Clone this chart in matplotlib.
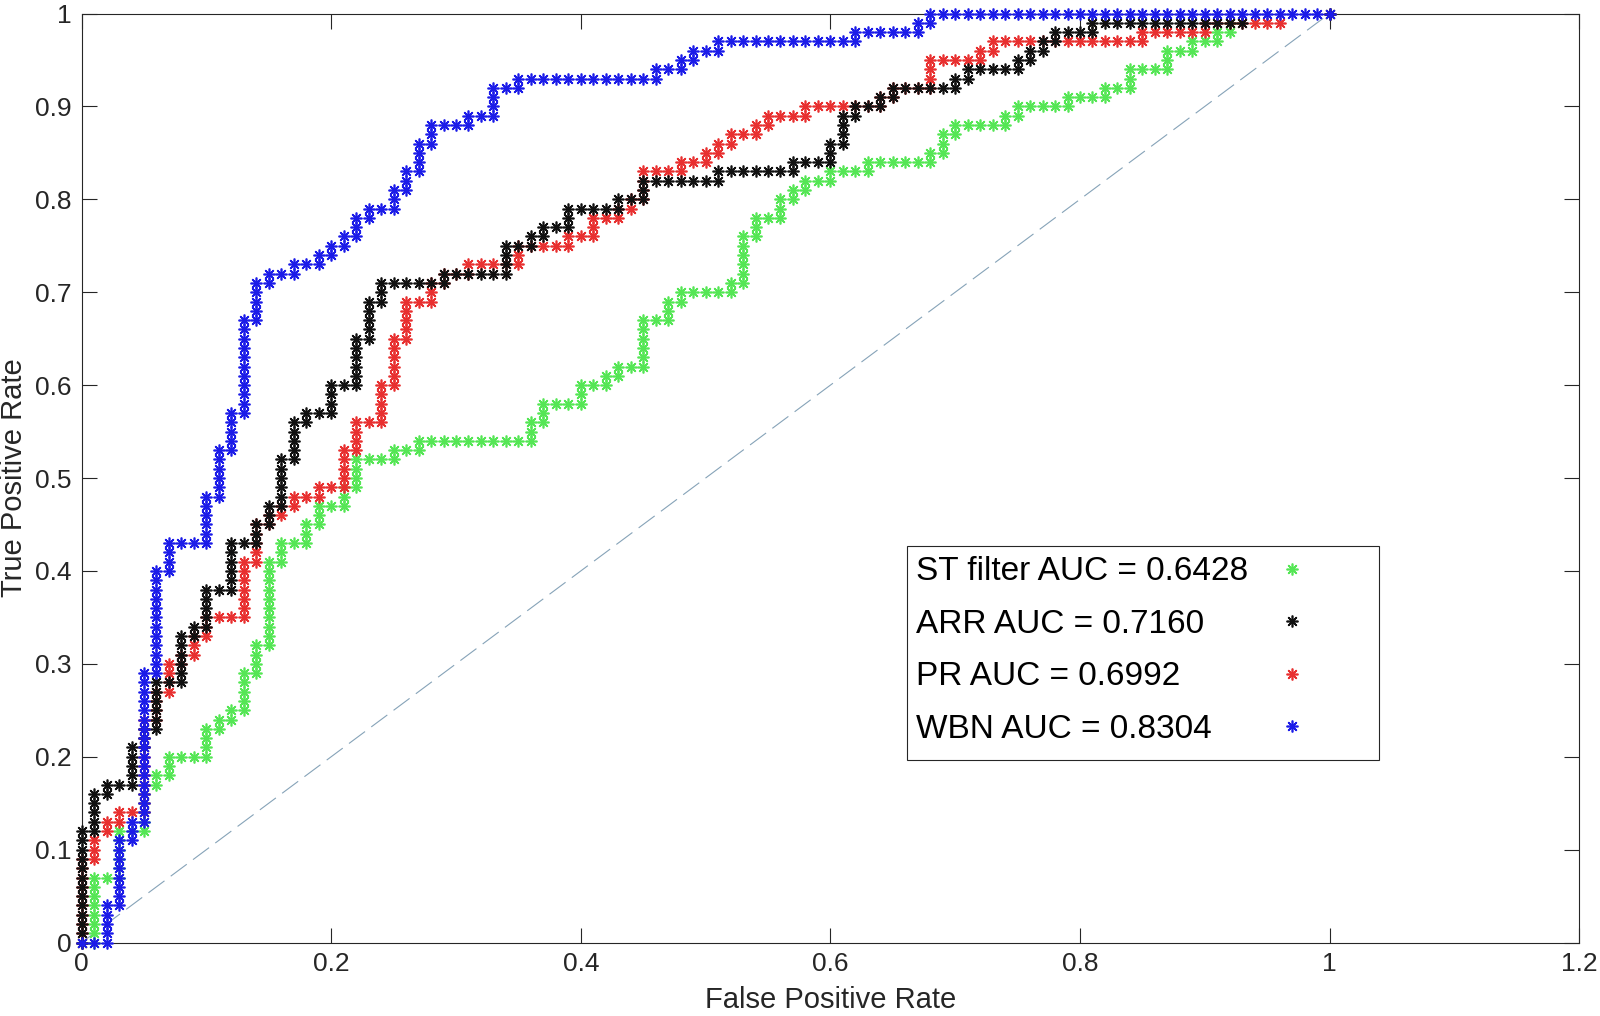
import matplotlib
matplotlib.use('Agg')
import matplotlib.pyplot as plt
from matplotlib.lines import Line2D
from matplotlib.patches import Rectangle

plt.rcParams['font.family'] = ['Liberation Sans', 'DejaVu Sans']

# ROC points. Key: FPR in percent; value: TPR values (percent) plotted at that FPR.
st_filter_roc = {
    0: [0], 1: [0, 1, 2, 3, 4, 5, 6, 7], 2: [7], 3: [7, 8, 9, 10, 11, 12], 4: [12],
    5: [12, 13, 14, 15, 16, 17], 6: [17, 18], 7: [18, 19, 20], 8: [20], 9: [20],
    10: [20, 21, 22, 23], 11: [23, 24], 12: [24, 25], 13: [25, 26, 27, 28, 29],
    14: [29, 30, 31, 32], 15: [32, 33, 34, 35, 36, 37, 38, 39, 40, 41], 16: [41, 42, 43],
    17: [43], 18: [43, 44, 45], 19: [45, 46, 47], 20: [47], 21: [47, 48, 49],
    22: [49, 50, 51, 52], 23: [52], 24: [52], 25: [52, 53], 26: [53], 27: [53, 54],
    28: [54], 29: [54], 30: [54], 31: [54], 32: [54], 33: [54], 34: [54], 35: [54],
    36: [54, 55, 56], 37: [56, 57, 58], 38: [58], 39: [58], 40: [58, 59, 60], 41: [60],
    42: [60, 61], 43: [61, 62], 44: [62], 45: [62, 63, 64, 65, 66, 67], 46: [67],
    47: [67, 68, 69], 48: [69, 70], 49: [70], 50: [70], 51: [70], 52: [70, 71],
    53: [71, 72, 73, 74, 75, 76], 54: [76, 77, 78], 55: [78], 56: [78, 79, 80],
    57: [80, 81], 58: [81, 82], 59: [82], 60: [82, 83], 61: [83], 62: [83], 63: [83, 84],
    64: [84], 65: [84], 66: [84], 67: [84], 68: [84, 85], 69: [85, 86, 87], 70: [87, 88],
    71: [88], 72: [88], 73: [88], 74: [88, 89], 75: [89, 90], 76: [90], 77: [90], 78: [90],
    79: [90, 91], 80: [91], 81: [91], 82: [91, 92], 83: [92], 84: [92, 93, 94], 85: [94],
    86: [94], 87: [94, 95, 96], 88: [96], 89: [96, 97], 90: [97], 91: [97, 98],
    92: [98, 99], 100: [100],
}

arr_roc = {
    0: [0, 1, 2, 3, 4, 5, 6, 7, 8, 9, 10, 11, 12], 1: [12, 13, 14, 15, 16], 2: [16, 17],
    3: [17], 4: [17, 18, 19, 20, 21], 5: [21, 22, 23], 6: [23, 24, 25, 26, 27, 28],
    7: [28], 8: [28, 29, 30, 31, 32, 33], 9: [33, 34], 10: [34, 35, 36, 37, 38], 11: [38],
    12: [38, 39, 40, 41, 42, 43], 13: [43], 14: [43, 44, 45], 15: [45, 46, 47],
    16: [47, 48, 49, 50, 51, 52], 17: [52, 53, 54, 55, 56], 18: [56, 57], 19: [57],
    20: [57, 58, 59, 60], 21: [60], 22: [60, 61, 62, 63, 64, 65], 23: [65, 66, 67, 68, 69],
    24: [69, 70, 71], 25: [71], 26: [71], 27: [71], 28: [71], 29: [71, 72], 30: [72],
    31: [72], 32: [72], 33: [72], 34: [72, 73, 74, 75], 35: [75], 36: [75, 76],
    37: [76, 77], 38: [77], 39: [77, 78, 79], 40: [79], 41: [79], 42: [79], 43: [79, 80],
    44: [80], 45: [80, 81, 82], 46: [82], 47: [82], 48: [82], 49: [82], 50: [82],
    51: [82, 83], 52: [83], 53: [83], 54: [83], 55: [83], 56: [83], 57: [83, 84],
    58: [84], 59: [84], 60: [84, 85, 86], 61: [86, 87, 88, 89], 62: [89, 90], 63: [90],
    64: [90, 91], 65: [91, 92], 66: [92], 67: [92], 68: [92], 69: [92], 70: [92, 93],
    71: [93, 94], 72: [94], 73: [94], 74: [94], 75: [94, 95], 76: [95, 96], 77: [96, 97],
    78: [97, 98], 79: [98], 80: [98], 81: [98, 99], 82: [99], 83: [99], 84: [99],
    85: [99], 86: [99], 87: [99], 88: [99], 89: [99], 90: [99], 91: [99], 92: [99],
    93: [99], 100: [100],
}

pr_roc = {
    0: [0, 1, 2, 3, 4, 5, 6, 7, 8, 9], 1: [9, 10, 11], 2: [12, 13], 3: [13, 14], 4: [14],
    5: [14, 15, 16, 17, 18, 19, 20, 21, 22, 23, 24], 6: [24, 25, 26, 27],
    7: [27, 28, 29, 30], 8: [30, 31], 9: [31, 32, 33], 10: [33, 34, 35], 11: [35],
    12: [35], 13: [35, 36, 37, 38, 39, 40, 41], 14: [41, 42, 43, 44, 45], 15: [45, 46],
    16: [46, 47], 17: [47, 48], 18: [48], 19: [48, 49], 20: [49], 21: [49, 50, 51, 52, 53],
    22: [53, 54, 55, 56], 23: [56], 24: [56, 57, 58, 59, 60], 25: [60, 61, 62, 63, 64, 65],
    26: [65, 66, 67, 68, 69], 27: [69], 28: [69, 70, 71], 29: [71, 72], 30: [72],
    31: [72, 73], 32: [73], 33: [73], 34: [73], 35: [73, 74, 75], 36: [75], 37: [75],
    38: [75], 39: [75, 76], 40: [76], 41: [76, 77, 78], 42: [78], 43: [78, 79],
    44: [79, 80], 45: [80, 81, 82, 83], 46: [83], 47: [83], 48: [83, 84], 49: [84],
    50: [84, 85], 51: [85, 86], 52: [86, 87], 53: [87], 54: [87, 88], 55: [88, 89],
    56: [89], 57: [89], 58: [89, 90], 59: [90], 60: [90], 61: [90], 62: [90], 63: [90],
    64: [90, 91], 65: [91, 92], 66: [92], 67: [92], 68: [92, 93, 94, 95], 69: [95],
    70: [95], 71: [95], 72: [95, 96], 73: [96, 97], 74: [97], 75: [97], 76: [97],
    77: [97], 78: [97], 79: [97], 80: [97], 81: [97], 82: [97], 83: [97], 84: [97],
    85: [97, 98], 86: [98], 87: [98], 88: [98], 89: [98], 90: [98, 99], 91: [99],
    92: [99], 93: [99], 94: [99], 95: [99], 96: [99], 100: [100],
}

wbn_roc = {
    0: [0], 1: [0], 2: [0, 1, 2, 3, 4], 3: [4, 5, 6, 7, 8, 9, 10, 11], 4: [11, 12, 13],
    5: [13, 14, 15, 16, 17, 18, 19, 20, 21, 22, 23, 24, 25, 26, 27, 28, 29],
    6: [29, 30, 31, 32, 33, 34, 35, 36, 37, 38, 39, 40], 7: [40, 41, 42, 43], 8: [43],
    9: [43], 10: [43, 44, 45, 46, 47, 48], 11: [48, 49, 50, 51, 52, 53],
    12: [53, 54, 55, 56, 57], 13: [57, 58, 59, 60, 61, 62, 63, 64, 65, 66, 67],
    14: [67, 68, 69, 70, 71], 15: [71, 72], 16: [72], 17: [72, 73], 18: [73],
    19: [73, 74], 20: [74, 75], 21: [75, 76], 22: [76, 77, 78], 23: [78, 79], 24: [79],
    25: [79, 80, 81], 26: [81, 82, 83], 27: [83, 84, 85, 86], 28: [86, 87, 88], 29: [88],
    30: [88], 31: [88, 89], 32: [89], 33: [89, 90, 91, 92], 34: [92], 35: [92, 93],
    36: [93], 37: [93], 38: [93], 39: [93], 40: [93], 41: [93], 42: [93], 43: [93],
    44: [93], 45: [93], 46: [93, 94], 47: [94], 48: [94, 95], 49: [95, 96], 50: [96],
    51: [96, 97], 52: [97], 53: [97], 54: [97], 55: [97], 56: [97], 57: [97], 58: [97],
    59: [97], 60: [97], 61: [97], 62: [97, 98], 63: [98], 64: [98], 65: [98], 66: [98],
    67: [98, 99], 68: [99, 100], 69: [100], 70: [100], 71: [100], 72: [100], 73: [100],
    74: [100], 75: [100], 76: [100], 77: [100], 78: [100], 79: [100], 80: [100],
    81: [100], 82: [100], 83: [100], 84: [100], 85: [100], 86: [100], 87: [100],
    88: [100], 89: [100], 90: [100], 91: [100], 92: [100], 93: [100], 94: [100],
    95: [100], 96: [100], 97: [100], 98: [100], 99: [100], 100: [100],
}

legend_labels = ['ST filter AUC = 0.6428', 'ARR AUC = 0.7160', 'PR AUC = 0.6992', 'WBN AUC = 0.8304']
series_colors = {'ST': '#55e655', 'ARR': '#111111', 'PR': '#e83030', 'WBN': '#1c1ce8'}
x_ticks = [0, 0.2, 0.4, 0.6, 0.8, 1.0, 1.2]
y_ticks = [0, 0.1, 0.2, 0.3, 0.4, 0.5, 0.6, 0.7, 0.8, 0.9, 1.0]
chance_line = [0, 1]

MARKER = (8, 2, 0)
MS = 8.5
MEW = 1.2
AXC = '#262626'


def to_xy(d):
    xs, ys = [], []
    for f, ts in d.items():
        for t in ts:
            xs.append(f / 100.0)
            ys.append(t / 100.0)
    return xs, ys


fig = plt.figure(figsize=(16, 10.16), dpi=100)
ax = fig.add_axes([0.051, 0.0723, 0.936, 0.9144])

ax.plot(chance_line, chance_line, ls=(0, (18, 7)), color='#86a3b8', lw=0.8, zorder=1)

draw_order = [('ST', st_filter_roc), ('PR', pr_roc), ('ARR', arr_roc), ('WBN', wbn_roc)]
for key, d in draw_order:
    xs, ys = to_xy(d)
    ax.plot(xs, ys, ls='none', marker=MARKER, ms=MS, mew=MEW,
            color=series_colors[key], clip_on=False, zorder=3)

ax.set_xlim(0, 1.2)
ax.set_ylim(0, 1)
ax.set_xticks(x_ticks)
ax.set_yticks(y_ticks)
ax.set_xticklabels([f'{v:g}' for v in x_ticks])
ax.set_yticklabels([f'{v:g}' for v in y_ticks])
ax.tick_params(direction='in', length=10.5, width=0.8, colors=AXC, labelsize=19,
               top=True, right=True, pad=7)
for s in ax.spines.values():
    s.set_color(AXC)
    s.set_linewidth(0.8)
ax.set_xlabel('False Positive Rate', fontsize=21, color=AXC, labelpad=7)
ax.set_ylabel('True Positive Rate', fontsize=21, color=AXC, labelpad=5)

# legend frame
ax.add_patch(Rectangle((0.5512, 0.1964), 0.3151, 0.2304, transform=ax.transAxes,
                       facecolor='white', edgecolor=AXC, lw=0.8, zorder=4))

leg_keys = ['ST', 'ARR', 'PR', 'WBN']
text_leg = ax.legend([Line2D([], [], ls='none') for _ in leg_keys], legend_labels,
                     loc='upper left', bbox_to_anchor=(0.5572, 0.4157), frameon=False,
                     handlelength=0, handletextpad=0, borderpad=0, borderaxespad=0,
                     labelspacing=0.645, fontsize=24)
text_leg.set_zorder(5)
ax.add_artist(text_leg)
mk_handles = [Line2D([], [], ls='none', marker=MARKER, ms=MS, mew=MEW, color=series_colors[k])
              for k in leg_keys]
mk_leg = ax.legend(mk_handles, [' '] * 4, loc='upper left', bbox_to_anchor=(0.7968, 0.4157),
                   frameon=False, handlelength=1, handletextpad=0, borderpad=0,
                   borderaxespad=0, labelspacing=0.645, fontsize=24)
mk_leg.set_zorder(5)

fig.savefig('out.png', dpi=100)
